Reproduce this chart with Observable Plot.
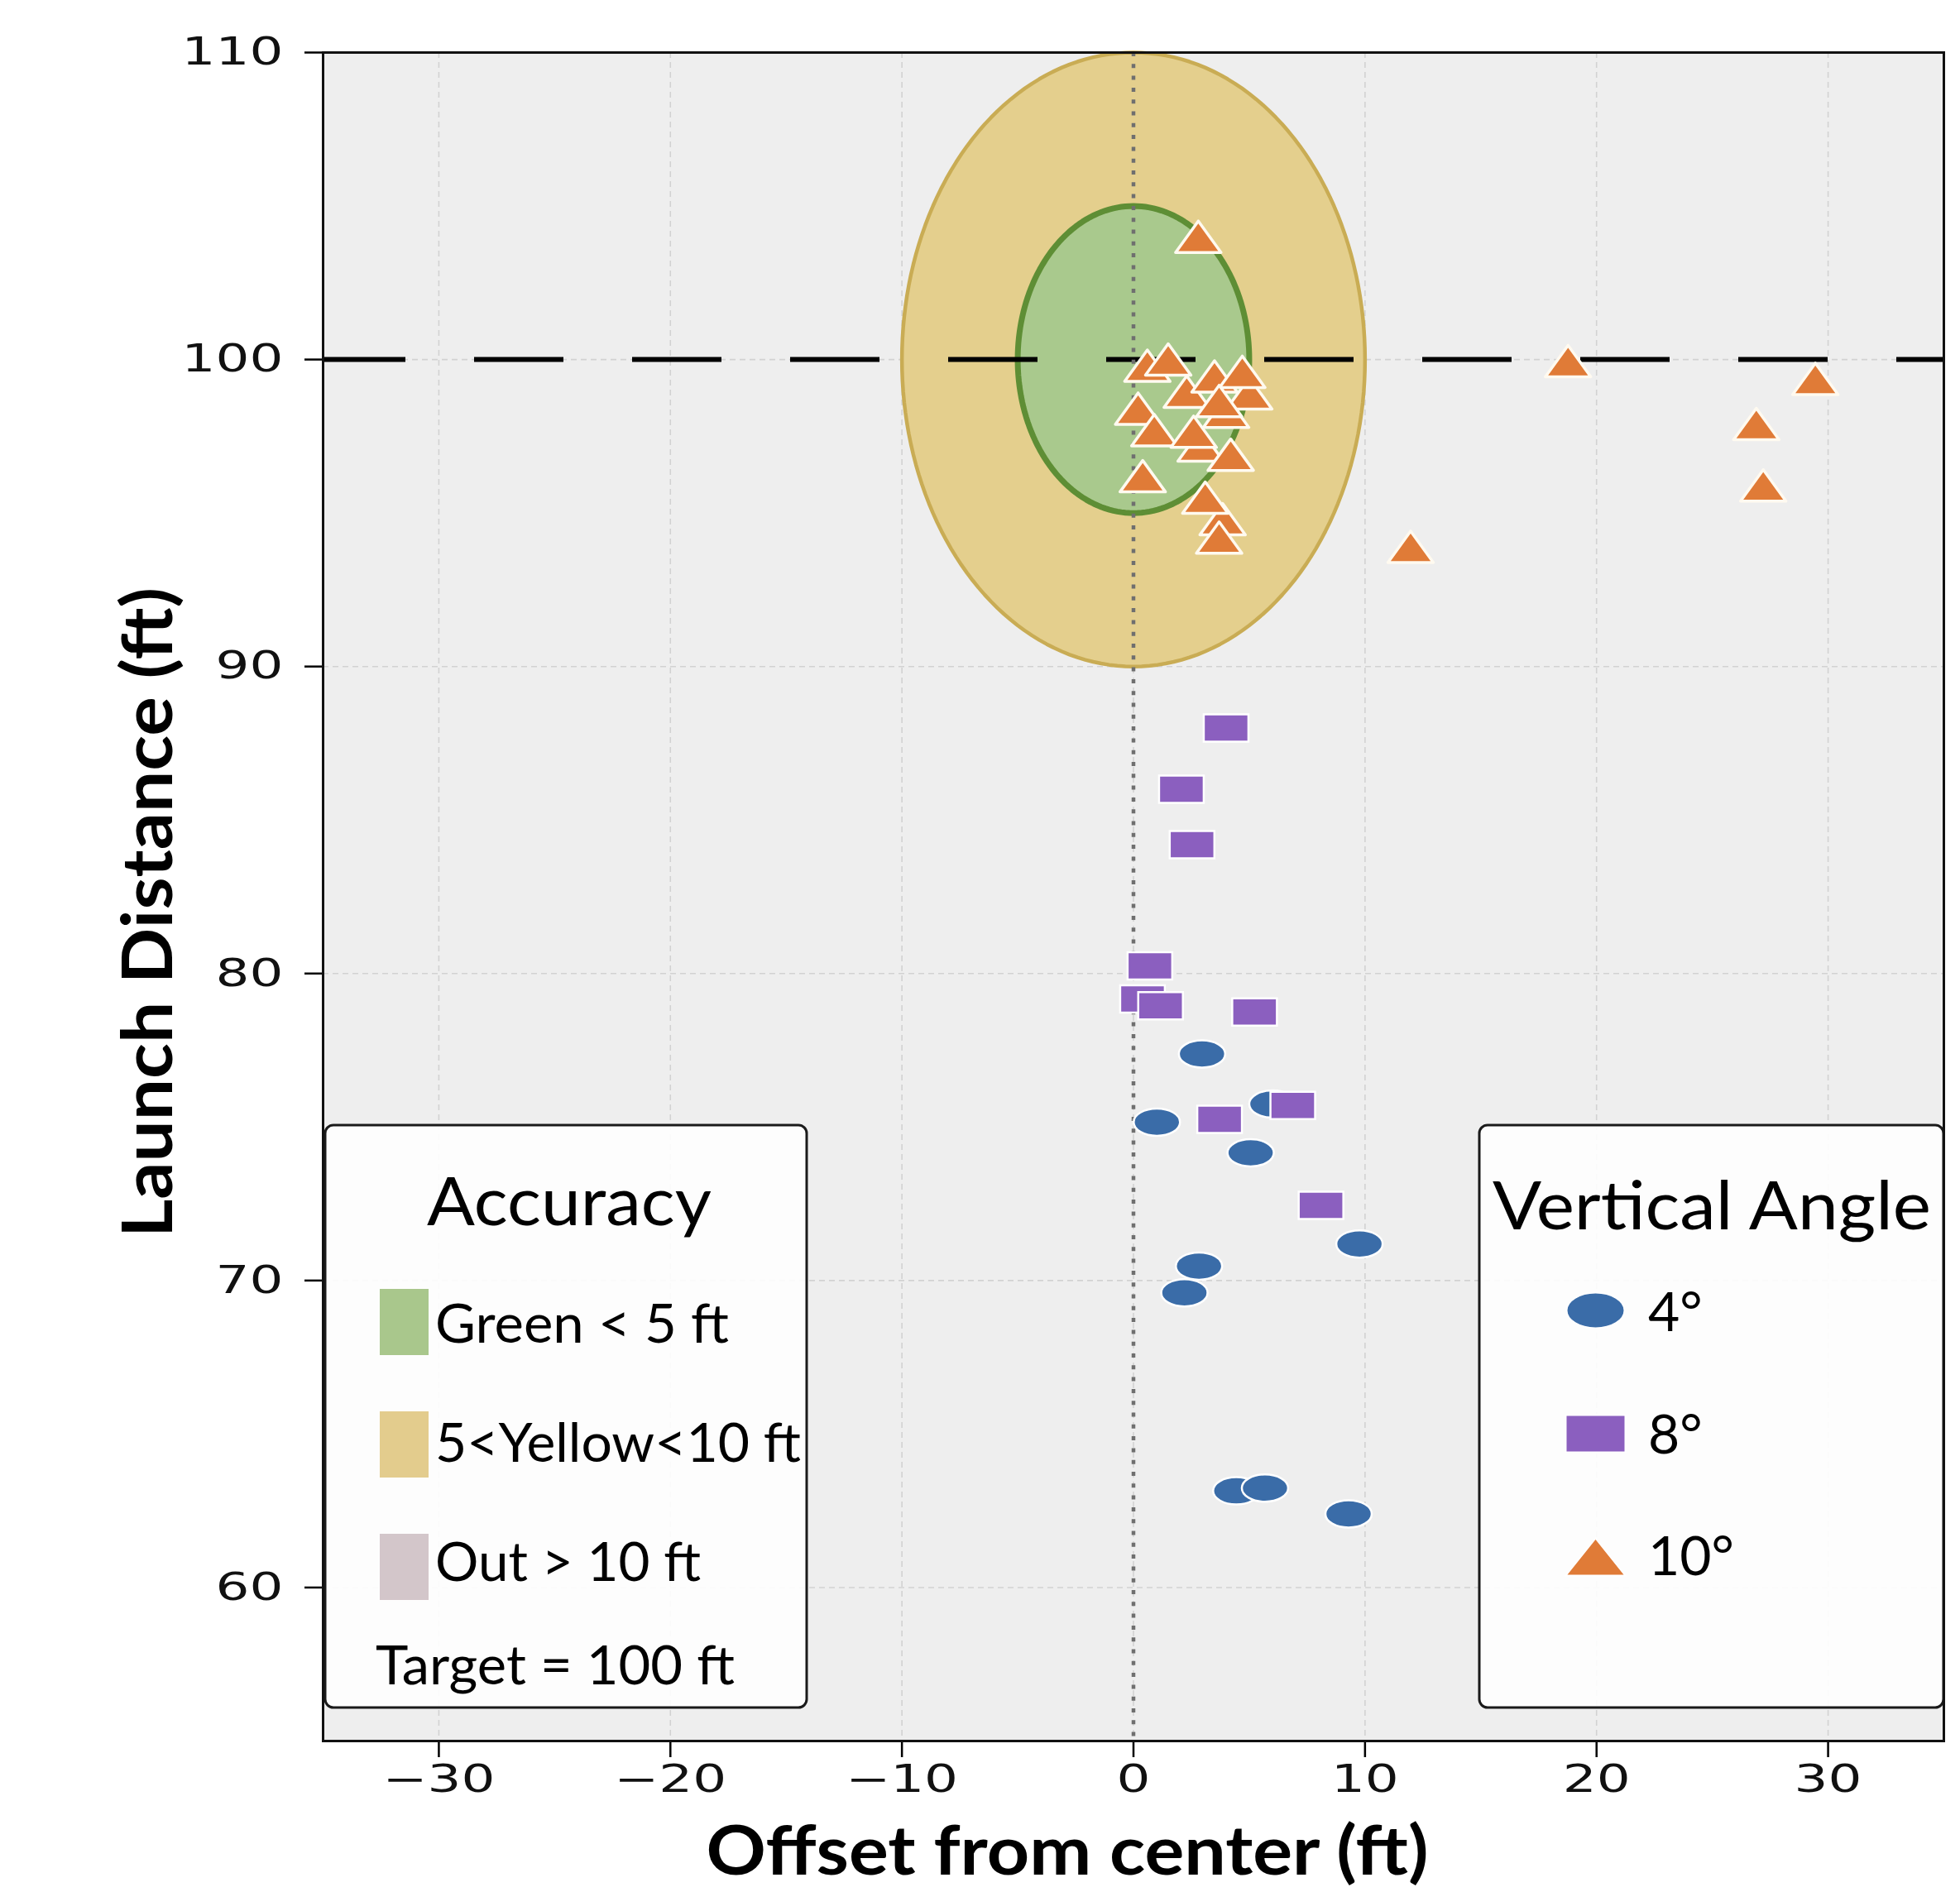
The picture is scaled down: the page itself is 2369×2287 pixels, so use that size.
<!DOCTYPE html>
<html><head><meta charset="utf-8">
<script src="https://cdn.jsdelivr.net/npm/d3@7"></script>
<script src="https://cdn.jsdelivr.net/npm/@observablehq/plot@0.6"></script>
<style>
html,body{margin:0;padding:0;background:#fff;}
#chart{position:relative;width:2369px;height:2287px;overflow:hidden;}
</style></head><body><div id="chart"></div>
<script>
// ---------- data ----------
const xTicks = [-30, -20, -10, 0, 10, 20, 30];
const yTicks = [60, 70, 80, 90, 100, 110];
const targetDistance = 100;
const centerOffset = 0;
const zoneRadii = [5, 10];
const zoneLabels = ["Green < 5 ft", "5<Yellow<10 ft", "Out > 10 ft"];
const targetLabel = "Target = 100 ft";
const angleLabels = ["4°", "8°", "10°"];

// 4° launches (circles)
const angle4X = [2.96, 1.01, 5.06, 6.0, 9.76, 2.83, 2.2, 4.44, 5.68, 9.29];
const angle4Y = [77.38, 75.16, 74.16, 75.75, 71.19, 70.47, 69.6, 63.15, 63.24, 62.4];
// 8° launches (squares)
const angle8X = [0.39, 4.0, 2.07, 2.53, 0.71, 1.17, 5.23, 6.88, 3.72, 8.1];
const angle8Y = [79.17, 88.0, 86.0, 84.2, 80.25, 78.95, 78.75, 75.7, 75.25, 72.45];
// 10° launches (triangles)
const angle10X = [0.6, 2.3, 5.0, 4.0, 3.5, 4.7, 3.7, 1.5, 2.8, 0.2, 2.9, 0.9, 2.6, 4.2, 0.4, 3.85, 3.1, 3.7, 11.97, 18.77, 29.45, 26.9, 27.2];
const angle10Y = [99.8, 98.95, 98.9, 98.3, 99.45, 99.6, 98.65, 100.0, 104.0, 98.4, 97.2, 97.7, 97.65, 96.9, 96.2, 94.8, 95.5, 94.2, 93.9, 99.95, 99.37, 97.9, 95.9];

// ---------- helpers ----------
const toRows = (xs, ys) => xs.map((x, i) => ({x, y: ys[i]}));
const ring = (r) => d3.range(0, 360, 2).map(a => ({
  x: centerOffset + r * Math.cos(a * Math.PI / 180),
  y: targetDistance + r * Math.sin(a * Math.PI / 180)
}));
const ellipseSym = (rx, ry) => ({draw(ctx) {
  const k = 0.5523;
  ctx.moveTo(rx, 0);
  ctx.bezierCurveTo(rx, k * ry, k * rx, ry, 0, ry);
  ctx.bezierCurveTo(-k * rx, ry, -rx, k * ry, -rx, 0);
  ctx.bezierCurveTo(-rx, -k * ry, -k * rx, -ry, 0, -ry);
  ctx.bezierCurveTo(k * rx, -ry, rx, -k * ry, rx, 0);
  ctx.closePath();
}});
const rectSym = (w, h) => ({draw(ctx) { ctx.rect(-w / 2, -h / 2, w, h); }});
const triSym = (w, h) => ({draw(ctx) {
  ctx.moveTo(0, -h / 2); ctx.lineTo(w / 2, h / 2); ctx.lineTo(-w / 2, h / 2); ctx.closePath();
}});

const colors = {c4: "#3a6ca8", c8: "#8b5fbf", c10: "#e07b37"};

const plot = Plot.plot({
  width: 2369, height: 2287,
  marginLeft: 390, marginRight: 20, marginTop: 63, marginBottom: 183,
  x: {domain: [-35, 35], label: null},
  y: {domain: [55, 110], label: null},
  style: {background: "white", fontFamily: "DejaVu Sans"},
  marks: [
    Plot.frame({fill: "#eeeeee"}),
    Plot.gridX(xTicks, {stroke: "#d2d2d2", strokeOpacity: 1, strokeWidth: 1.6, strokeDasharray: "7,5"}),
    Plot.gridY(yTicks, {stroke: "#d2d2d2", strokeOpacity: 1, strokeWidth: 1.6, strokeDasharray: "7,5"}),
    Plot.line(ring(zoneRadii[1]), {x: "x", y: "y", curve: "linear-closed", fill: "#e4cf8d", stroke: "#c9ac54", strokeWidth: 4.5}),
    Plot.line(ring(zoneRadii[0]), {x: "x", y: "y", curve: "linear-closed", fill: "#a9c98d", stroke: "#5e8e35", strokeWidth: 7}),
    Plot.ruleY([targetDistance], {stroke: "#000", strokeWidth: 6, strokeDasharray: "108,83", strokeDashoffset: 8}),
    Plot.ruleX([centerOffset], {stroke: "#6f6f6f", strokeWidth: 4.5, strokeDasharray: "5,9.3"}),
    Plot.dot(toRows(angle4X, angle4Y), {x: "x", y: "y", symbol: ellipseSym(28, 16.5), fill: colors.c4, stroke: "white", strokeWidth: 2.5}),
    Plot.dot(toRows(angle8X, angle8Y), {x: "x", y: "y", symbol: rectSym(54, 33), fill: colors.c8, stroke: "white", strokeWidth: 2.5}),
    Plot.dot(toRows(angle10X, angle10Y), {x: "x", y: "y", symbol: triSym(55, 38), fill: colors.c10, stroke: "#fffaf0", strokeWidth: 3.5, strokeLinejoin: "round"}),
    Plot.axisY({ticks: yTicks, tickSize: 22, tickPadding: 26, fontSize: 46, label: null, strokeWidth: 2.5}),
    Plot.axisX({ticks: xTicks, tickSize: 20, tickPadding: 9, fontSize: 46, label: null, strokeWidth: 2.5}),
    Plot.frame({stroke: "#111", strokeWidth: 3})
  ]
});

document.getElementById("chart").appendChild(plot);
const svg = d3.select(plot);

// widen tick labels like the reference
svg.selectAll('g[aria-label$="tick label"]').attr("font-size", 46).attr("font-family", "DejaVu Sans").attr("fill", "#111");
svg.selectAll('g[aria-label$="tick label"] text').each(function() {
  const t = this.getAttribute("transform");
  if (t) this.setAttribute("transform", t + " scale(1.4,1)");
  else {
    const x = +this.getAttribute("x") || 0, y = +this.getAttribute("y") || 0;
    this.removeAttribute("x"); this.removeAttribute("y");
    this.setAttribute("transform", `translate(${x},${y}) scale(1.4,1)`);
  }
});

// axis titles
svg.append("text").attr("transform", "translate(208,1103) rotate(-90)").attr("text-anchor", "middle")
  .attr("font-family", "Lato").attr("font-weight", "bold").attr("font-size", 84)
  .attr("textLength", 786).attr("lengthAdjust", "spacingAndGlyphs").attr("fill", "#000")
  .text("Launch Distance (ft)");
svg.append("text").attr("x", 1290).attr("y", 2266).attr("text-anchor", "middle")
  .attr("font-family", "Lato").attr("font-weight", "bold").attr("font-size", 82)
  .attr("textLength", 873).attr("lengthAdjust", "spacingAndGlyphs").attr("fill", "#000")
  .text("Offset from center (ft)");

// legends
const lg = svg.append("g").attr("font-family", "Lato").attr("fill", "#000");
const box = (x, y, w, h) => lg.append("rect").attr("x", x).attr("y", y).attr("width", w).attr("height", h)
  .attr("rx", 10).attr("fill", "#fff").attr("fill-opacity", 0.88).attr("stroke", "#1a1a1a").attr("stroke-width", 3);
const txt = (s, x, y, size, len, anchor = "start") => {
  const t = lg.append("text").attr("x", x).attr("y", y).attr("font-size", size).attr("text-anchor", anchor).text(s);
  if (len) t.attr("textLength", len).attr("lengthAdjust", "spacingAndGlyphs");
  return t;
};
box(393, 1360, 582, 704);
txt("Accuracy", 688, 1481, 82, 344, "middle");
const swatchColors = ["#a9c78c", "#e3cc8d", "#d3c6ca"];
const swatchY = [1558, 1706, 1854];
const zoneBaselines = [1623, 1767, 1911];
const zoneLens = [355, 442, 321];
zoneLabels.forEach((s, i) => {
  lg.append("rect").attr("x", 459).attr("y", swatchY[i]).attr("width", 59).attr("height", 80).attr("fill", swatchColors[i]);
  txt(s, 526, zoneBaselines[i], 66, zoneLens[i]);
});
txt(targetLabel, 454, 2036, 66, 434);

box(1788, 1360, 561, 704);
txt("Vertical Angle", 1804, 1486, 82, 530);
const legSyms = [ellipseSym(35, 21.5), rectSym(72, 45), triSym(72, 45)];
const legCols = [colors.c4, colors.c8, colors.c10];
const legCY = [1584, 1733, 1882];
const legBase = [1609, 1757, 1904];
angleLabels.forEach((s, i) => {
  lg.append("path").attr("d", d3.symbol(legSyms[i])()).attr("transform", `translate(1928.5,${legCY[i]})`)
    .attr("fill", legCols[i]).attr("stroke", "white").attr("stroke-width", 2);
  txt(s, 1992, legBase[i], 66, null);
});

// keep frame outline on top
const frames = svg.selectAll('[aria-label="frame"]').nodes();
if (frames.length) frames[frames.length - 1].parentNode.appendChild(frames[frames.length - 1]);
</script></body></html>
